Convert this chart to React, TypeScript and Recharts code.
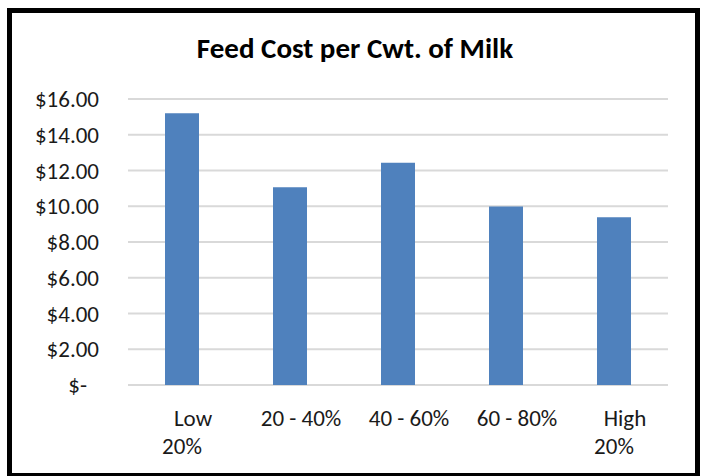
import React from "react";
import { Bar, BarChart, CartesianGrid, XAxis, YAxis } from "recharts";

// quintile groups, "\n" marks a wrapped label
const categories = ["Low\n20%", "20 - 40%", "40 - 60%", "60 - 80%", "High\n20%"];
const feedCost = [15.2, 11.06, 12.44, 9.98, 9.39];
const yTicks = [0, 2, 4, 6, 8, 10, 12, 14, 16];

const data = categories.map((group, i) => ({ group, cost: feedCost[i] }));

const FONT = "Carlito, Lato, 'Open Sans', sans-serif";

const money = (v: number) => (v === 0 ? "$-" : `$${v.toFixed(2)}`);

const YTick = (props: any) => {
  const { x, y, payload } = props;
  const zero = payload.value === 0;
  return (
    <text
      x={x - (zero ? 12 : 0)}
      y={y}
      dy={8}
      textAnchor="end"
      fill="#1a1a1a"
      fontSize={23}
      fontFamily={FONT}
    >
      {money(payload.value)}
    </text>
  );
};

const XTick = (props: any) => {
  const { x, y, payload } = props;
  const lines = String(payload.value).split("\n");
  return (
    <g>
      {lines.map((line, i) => (
        <text
          key={i}
          x={x + (i === 0 ? 11 : 0)}
          y={y + 39 + i * 28}
          textAnchor="middle"
          fill="#1a1a1a"
          fontSize={23}
          fontFamily={FONT}
        >
          {line}
        </text>
      ))}
    </g>
  );
};

export default function App() {
  return (
    <div style={{ position: "absolute", left: 0, top: 0, width: 704, height: 476, background: "#fff", overflow: "hidden" }}>
      <BarChart
        width={704}
        height={476}
        data={data}
        margin={{ top: 99, right: 36, bottom: 0, left: 0 }}
      >
        <text
          x={355}
          y={58}
          textAnchor="middle"
          fontSize={29}
          fontWeight="bold"
          fontFamily={FONT}
          fill="#000"
        >
          Feed Cost per Cwt. of Milk
        </text>
        <CartesianGrid vertical={false} stroke="#d9d9d9" strokeWidth={2} />
        <XAxis
          dataKey="group"
          axisLine={false}
          tickLine={false}
          tickSize={0}
          height={91}
          interval={0}
          tick={<XTick />}
        />
        <YAxis
          width={128}
          domain={[0, 16]}
          ticks={yTicks}
          axisLine={false}
          tickLine={false}
          tickSize={0}
          tickMargin={29}
          tick={<YTick />}
        />
        <Bar dataKey="cost" fill="#4f81bd" barSize={34} isAnimationActive={false} />
      </BarChart>
      <div
        style={{
          position: "absolute",
          left: 7,
          top: 8,
          width: 683,
          height: 460,
          border: "5px solid #000",
          pointerEvents: "none",
        }}
      />
    </div>
  );
}
